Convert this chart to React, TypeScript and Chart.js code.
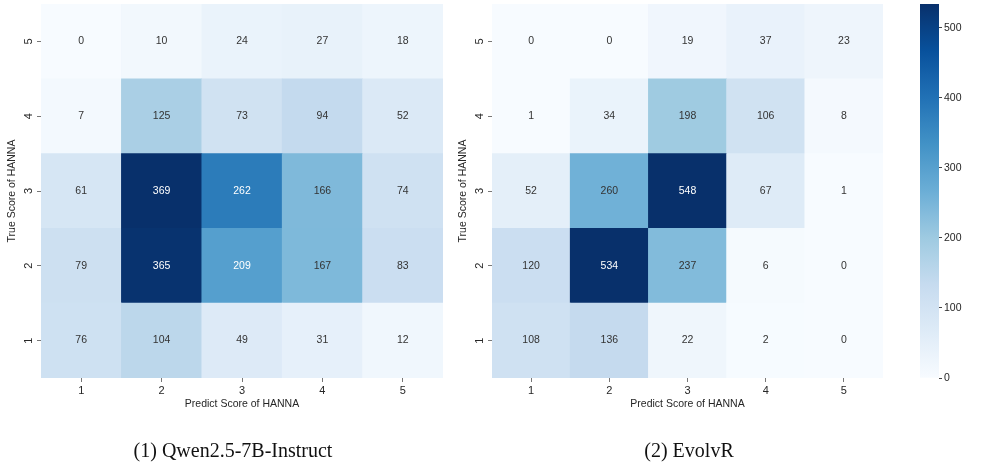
import React, { useEffect, useRef } from 'react';
import { Chart, registerables } from 'chart.js';

Chart.register(...registerables);

const predictLabels = ['1', '2', '3', '4', '5'];
const trueScores = [1, 2, 3, 4, 5];
// rows: true score 1..5 ; columns: predicted score 1..5
const qwenCounts = [
  [76, 104, 49, 31, 12],
  [79, 365, 209, 167, 83],
  [61, 369, 262, 166, 74],
  [7, 125, 73, 94, 52],
  [0, 10, 24, 27, 18],
];
const evolvrCounts = [
  [108, 136, 22, 2, 0],
  [120, 534, 237, 6, 0],
  [52, 260, 548, 67, 1],
  [1, 34, 198, 106, 8],
  [0, 0, 19, 37, 23],
];
const colorbarTicks = [0, 100, 200, 300, 400, 500];
const colorbarMax = 534;
const qwenMax = 369;

const xTitle = 'Predict Score of HANNA';
const yTitle = 'True Score of HANNA';

const BLUES = [
  [247, 251, 255], [222, 235, 247], [198, 219, 239], [158, 202, 225], [107, 174, 214],
  [66, 146, 198], [33, 113, 181], [8, 81, 156], [8, 48, 107],
];

function blues(t: number): string {
  const tt = Math.max(0, Math.min(1, t));
  const p = tt * 8;
  const i = Math.min(7, Math.floor(p));
  const f = p - i;
  const a = BLUES[i];
  const b = BLUES[i + 1];
  const c = a.map((v, k) => Math.round(v + (b[k] - v) * f));
  return `rgb(${c[0]},${c[1]},${c[2]})`;
}

const SANS = '"Liberation Sans", Arial, sans-serif';
const TEXT = '#262626';

type HeatProps = {
  counts: number[][];
  vmax: number;
  left: number;
  width: number;
  axisW: number;
  rightPad: number;
};

function Heatmap({ counts, vmax, left, width, axisW, rightPad }: HeatProps) {
  const ref = useRef<HTMLCanvasElement>(null);
  useEffect(() => {
    if (!ref.current) return;
    const datasets = trueScores.map((r, i) => ({
      label: 'True ' + r,
      data: counts[i].map(() => [r - 0.5, r + 0.5]),
      backgroundColor: counts[i].map((v) => blues(v / vmax)),
      borderWidth: 0,
      barPercentage: 1,
      categoryPercentage: 1,
      grouped: false,
    }));
    const textPlugin = {
      id: 'heatText',
      afterDraw(chart: any) {
        const ctx = chart.ctx;
        const area = chart.chartArea;
        const xs = chart.scales.x;
        const ys = chart.scales.y;
        ctx.save();
        ctx.textAlign = 'center';
        ctx.textBaseline = 'middle';
        ctx.font = `10.5px ${SANS}`;
        trueScores.forEach((r, i) => {
          const meta = chart.getDatasetMeta(i);
          meta.data.forEach((bar: any, j: number) => {
            const v = counts[i][j];
            ctx.fillStyle = v / vmax > 0.52 ? '#ffffff' : '#333333';
            ctx.fillText(String(v), bar.x, (bar.y + bar.base) / 2);
          });
        });
        ctx.fillStyle = TEXT;
        ctx.font = `11px ${SANS}`;
        predictLabels.forEach((lab, j) => {
          ctx.fillText(lab, xs.getPixelForValue(j), area.bottom + 13);
        });
        trueScores.forEach((r) => {
          ctx.save();
          ctx.translate(area.left - 12, ys.getPixelForValue(r));
          ctx.rotate(-Math.PI / 2);
          ctx.fillText(String(r), 0, 0);
          ctx.restore();
        });
        ctx.font = `10.5px ${SANS}`;
        ctx.fillText(xTitle, (area.left + area.right) / 2, area.bottom + 26);
        ctx.save();
        ctx.translate(area.left - 29, (area.top + area.bottom) / 2);
        ctx.rotate(-Math.PI / 2);
        ctx.fillText(yTitle, 0, 0);
        ctx.restore();
        ctx.restore();
      },
    };
    const chart = new Chart(ref.current, {
      type: 'bar',
      data: { labels: predictLabels, datasets: datasets as any },
      options: {
        animation: false,
        responsive: false,
        layout: { padding: { top: 4, left: 0, right: rightPad, bottom: 0 } },
        plugins: { legend: { display: false }, tooltip: { enabled: false } },
        scales: {
          x: {
            type: 'category',
            grid: { display: true, drawOnChartArea: false, drawTicks: true, tickLength: 4, color: '#777', offset: false },
            border: { display: false },
            ticks: { display: false },
            afterFit: (s: any) => { s.height = 96; s.paddingLeft = 0; s.paddingRight = 0; },
          },
          y: {
            type: 'linear',
            min: 0.5,
            max: 5.5,
            afterBuildTicks: (s: any) => { s.ticks = trueScores.map((v) => ({ value: v })); },
            grid: { display: true, drawOnChartArea: false, drawTicks: true, tickLength: 4, color: '#777' },
            border: { display: false },
            ticks: { display: false },
            afterFit: (s: any) => { s.width = axisW; s.paddingTop = 0; s.paddingBottom = 0; },
          },
        },
      } as any,
      plugins: [textPlugin],
    });
    return () => chart.destroy();
  }, []);
  return (
    <canvas
      ref={ref}
      width={width}
      height={474}
      style={{ position: 'absolute', left, top: 0, width, height: 474 }}
    />
  );
}

function Colorbar() {
  const ref = useRef<HTMLCanvasElement>(null);
  useEffect(() => {
    if (!ref.current) return;
    const chart = new Chart(ref.current, {
      type: 'bar',
      data: {
        labels: [''],
        datasets: [
          {
            data: [[0, colorbarMax]] as any,
            borderWidth: 0,
            barPercentage: 1,
            categoryPercentage: 1,
            backgroundColor: (c: any) => {
              const area = c.chart.chartArea;
              if (!area) return blues(0.5);
              const g = c.chart.ctx.createLinearGradient(0, area.bottom, 0, area.top);
              for (let k = 0; k <= 16; k++) g.addColorStop(k / 16, blues(k / 16));
              return g;
            },
          },
        ],
      },
      options: {
        animation: false,
        responsive: false,
        layout: { padding: { top: 4, left: 20, right: 0, bottom: 96 } },
        plugins: { legend: { display: false }, tooltip: { enabled: false } },
        scales: {
          x: { display: false },
          y: {
            position: 'right',
            min: 0,
            max: colorbarMax,
            afterBuildTicks: (s: any) => { s.ticks = colorbarTicks.map((v) => ({ value: v })); },
            grid: { display: true, drawOnChartArea: false, drawTicks: true, tickLength: 3, color: '#444' },
            border: { display: false },
            ticks: { color: TEXT, font: { family: SANS, size: 10.5 }, padding: 2 },
            afterFit: (s: any) => { s.width = 58; s.paddingTop = 0; s.paddingBottom = 0; },
          },
        },
      } as any,
    });
    return () => chart.destroy();
  }, []);
  return (
    <canvas ref={ref} width={97} height={474} style={{ position: 'absolute', left: 900, top: 0, width: 97, height: 474 }} />
  );
}

const captionStyle: React.CSSProperties = {
  position: 'absolute',
  top: 437,
  fontFamily: '"Liberation Serif", "Times New Roman", serif',
  fontSize: 20,
  color: '#111',
  whiteSpace: 'nowrap',
  transform: 'translateX(-50%)',
  lineHeight: '26px',
};

export default function App() {
  useEffect(() => {
    document.body.style.margin = '0';
  }, []);
  return (
    <div style={{ position: 'relative', width: 997, height: 474, background: '#fff', overflow: 'hidden' }}>
      <Heatmap counts={qwenCounts} vmax={qwenMax} left={0} width={460} axisW={41} rightPad={17} />
      <Heatmap counts={evolvrCounts} vmax={colorbarMax} left={450} width={450} axisW={42} rightPad={17} />
      <Colorbar />
      <div style={{ ...captionStyle, left: 233 }}>(1) Qwen2.5-7B-Instruct</div>
      <div style={{ ...captionStyle, left: 689 }}>(2) EvolvR</div>
    </div>
  );
}
